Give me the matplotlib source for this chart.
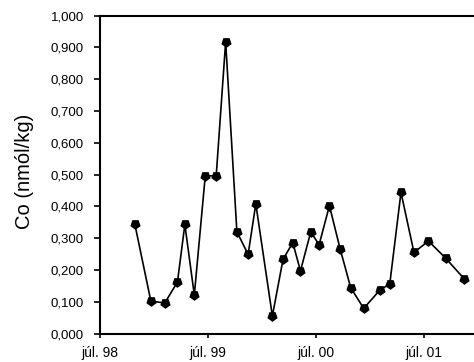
import matplotlib
matplotlib.use("Agg")
import matplotlib.pyplot as plt
from matplotlib.ticker import FuncFormatter, MultipleLocator
import numpy as np

plt.rcParams['font.family'] = ['Liberation Sans', 'DejaVu Sans']

# Sampling dates and cobalt concentrations (nmol/kg)
dates = [
    "1998-10-27", "1998-12-20", "1999-02-05", "1999-03-20", "1999-04-14",
    "1999-05-16", "1999-06-22", "1999-07-29", "1999-08-30", "1999-10-07",
    "1999-11-14", "1999-12-10", "2000-02-04", "2000-03-11", "2000-04-13",
    "2000-05-09", "2000-06-13", "2000-07-11", "2000-08-15", "2000-09-20",
    "2000-10-26", "2000-12-09", "2001-02-03", "2001-03-07", "2001-04-14",
    "2001-05-28", "2001-07-16", "2001-09-12", "2001-11-14",
]
co = [
    0.343, 0.102, 0.096, 0.162, 0.343,
    0.121, 0.496, 0.496, 0.918, 0.320,
    0.249, 0.408, 0.055, 0.233, 0.286,
    0.197, 0.320, 0.279, 0.402, 0.267,
    0.144, 0.079, 0.138, 0.155, 0.444,
    0.255, 0.291, 0.237, 0.172,
]
tick_dates = ["1998-07-01", "1999-07-01", "2000-07-01", "2001-07-01"]
tick_labels = ["júl. 98", "júl. 99", "júl. 00", "júl. 01"]

x = np.array(dates, dtype="datetime64[D]")
xt = np.array(tick_dates, dtype="datetime64[D]")

fig = plt.figure(figsize=(4.74, 3.62), dpi=100)
ax = fig.add_axes([100 / 474, 1 - 333.5 / 362, 1 - 100 / 474, (333.5 - 15.7) / 362])

ax.plot(x, co, color="black", lw=1.2, marker=(5, 0, 180), ms=6.5,
        markerfacecolor="black", markeredgecolor="black", clip_on=False)

ax.set_xlim(np.datetime64("1998-07-01"), np.datetime64("2001-12-17"))
ax.set_ylim(0, 1.0)
ax.yaxis.set_major_locator(MultipleLocator(0.1))
ax.yaxis.set_major_formatter(FuncFormatter(lambda v, p: f"{v:.3f}".replace(".", ",")))
ax.set_xticks(xt)
ax.set_xticklabels(tick_labels)

for side in ("left", "bottom", "top"):
    ax.spines[side].set_linewidth(1.5)
ax.spines["right"].set_visible(False)

ax.tick_params(axis="y", direction="out", length=4, width=1.2, labelsize=9.5, pad=7.5)
ax.tick_params(axis="x", direction="out", length=3, width=1.2, labelsize=10, pad=6)
ax.set_ylabel("Co (nmól/kg)", fontsize=14.5)
ax.yaxis.set_label_coords(-0.176, 0.51)

fig.savefig("out.png", dpi=100)
